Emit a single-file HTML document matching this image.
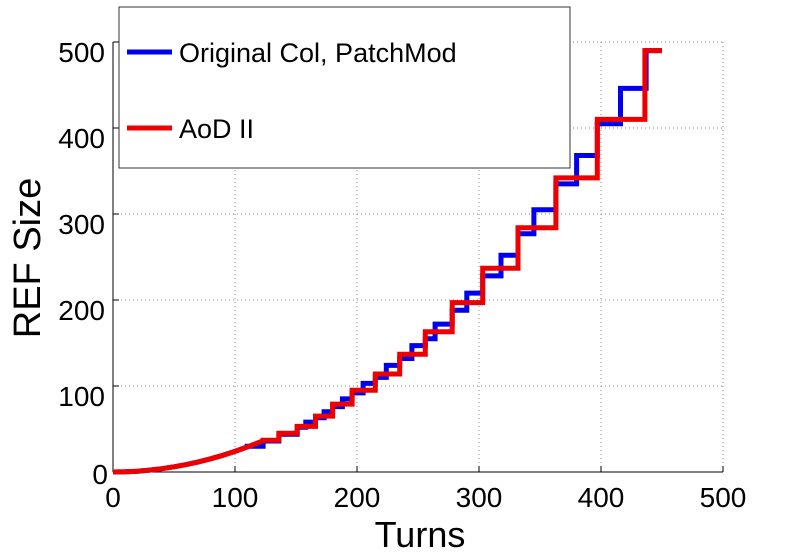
<!DOCTYPE html>
<html><head><style>body{margin:0;background:#fff}svg{display:block}</style></head><body>
<svg width="800" height="553" xmlns="http://www.w3.org/2000/svg" font-family="Liberation Sans, sans-serif">
<rect width="800" height="553" fill="#fff"/>
<g stroke="#888" stroke-width="1" stroke-dasharray="1,3">
<line x1="235" y1="42" x2="235" y2="472"/><line x1="357" y1="42" x2="357" y2="472"/><line x1="479" y1="42" x2="479" y2="472"/><line x1="601" y1="42" x2="601" y2="472"/><line x1="723" y1="42" x2="723" y2="472"/>
<line x1="113" y1="42" x2="723" y2="42"/><line x1="113" y1="128" x2="723" y2="128"/><line x1="113" y1="214" x2="723" y2="214"/><line x1="113" y1="300" x2="723" y2="300"/><line x1="113" y1="386" x2="723" y2="386"/>
</g>
<g stroke="#000" stroke-width="1">
<line x1="113" y1="42" x2="113" y2="472"/><line x1="113" y1="472" x2="723" y2="472"/>
<line x1="235" y1="472" x2="235" y2="466"/><line x1="357" y1="472" x2="357" y2="466"/><line x1="479" y1="472" x2="479" y2="466"/><line x1="601" y1="472" x2="601" y2="466"/><line x1="723" y1="472" x2="723" y2="466"/>
<line x1="113" y1="42" x2="119" y2="42"/><line x1="113" y1="128" x2="119" y2="128"/><line x1="113" y1="214" x2="119" y2="214"/><line x1="113" y1="300" x2="119" y2="300"/><line x1="113" y1="386" x2="119" y2="386"/>
</g>
<g font-size="28" fill="#000" text-anchor="end">
<text x="105" y="62">500</text><text x="105" y="148">400</text><text x="105" y="234">300</text><text x="105" y="320">200</text><text x="105" y="406">100</text><text x="108" y="484">0</text>
</g>
<g font-size="28" fill="#000" text-anchor="middle">
<text x="113" y="507">0</text><text x="235" y="507">100</text><text x="357" y="507">200</text><text x="479" y="507">300</text><text x="601" y="507">400</text><text x="723" y="507">500</text>
</g>
<text x="420" y="547" font-size="36" text-anchor="middle">Turns</text>
<text transform="translate(40,258) rotate(-90)" font-size="38" text-anchor="middle">REF Size</text>
<path fill="none" stroke="#0000ee" stroke-width="5" d="M113,472 L125.2,471.8 L137.4,471.2 L149.6,470.1 L161.8,468.7 L174,466.8 L186.2,464.6 L198.4,461.9 L210.6,458.8 L222.8,455.3 L235,451.4 L247.2,447 V446.2 H263.1 V441 H278.9 V434.2 H297.2 V427.3 H305.8 V422.1 H315.5 V417.8 H324.1 V411.8 H332.6 V406.6 H342.4 V398.9 H352.1 V392.9 H363.1 V383.4 H375.3 V377.4 H386.3 V365.4 H399.7 V358.5 H411.9 V345.6 H425.3 V338.7 H435.1 V324.1 H452.2 V310.3 H466.8 V293.1 H482.7 V275.9 H501 V255.3 H518 V233.8 H533.9 V209.7 H555.9 V183.9 H576.6 V155.5 H597.3 V123.7 H620.5 V88.4 H646.1 V50.6 H662"/>
<path fill="none" stroke="#ee0000" stroke-width="5" d="M113,472 L125.2,471.8 L137.4,471.2 L149.6,470.1 L161.8,468.7 L174,466.8 L186.2,464.6 L198.4,461.9 L210.6,458.8 L222.8,455.3 L235,451.4 L247.2,447 L263.1,440.8 V440.2 H278.9 V433.3 H297.2 V426.4 H315.5 V416.1 H332.6 V404.1 H352.1 V390.3 H375.3 V374 H399.7 V354.2 H425.3 V331.8 H452.2 V302.6 H482.7 V268.2 H518 V227.8 H555.9 V177.9 H597.3 V119.4 H644.9 V50.6 H662"/>
<rect x="119" y="7" width="451" height="161" fill="#fff" stroke="#333" stroke-width="1"/>
<line x1="127" y1="52" x2="172" y2="52" stroke="#0000ee" stroke-width="5"/>
<line x1="127" y1="128" x2="172" y2="128" stroke="#ee0000" stroke-width="5"/>
<text x="179" y="62" font-size="27">Original Col, PatchMod</text>
<text x="179" y="138" font-size="27">AoD II</text>
</svg>
</body></html>
